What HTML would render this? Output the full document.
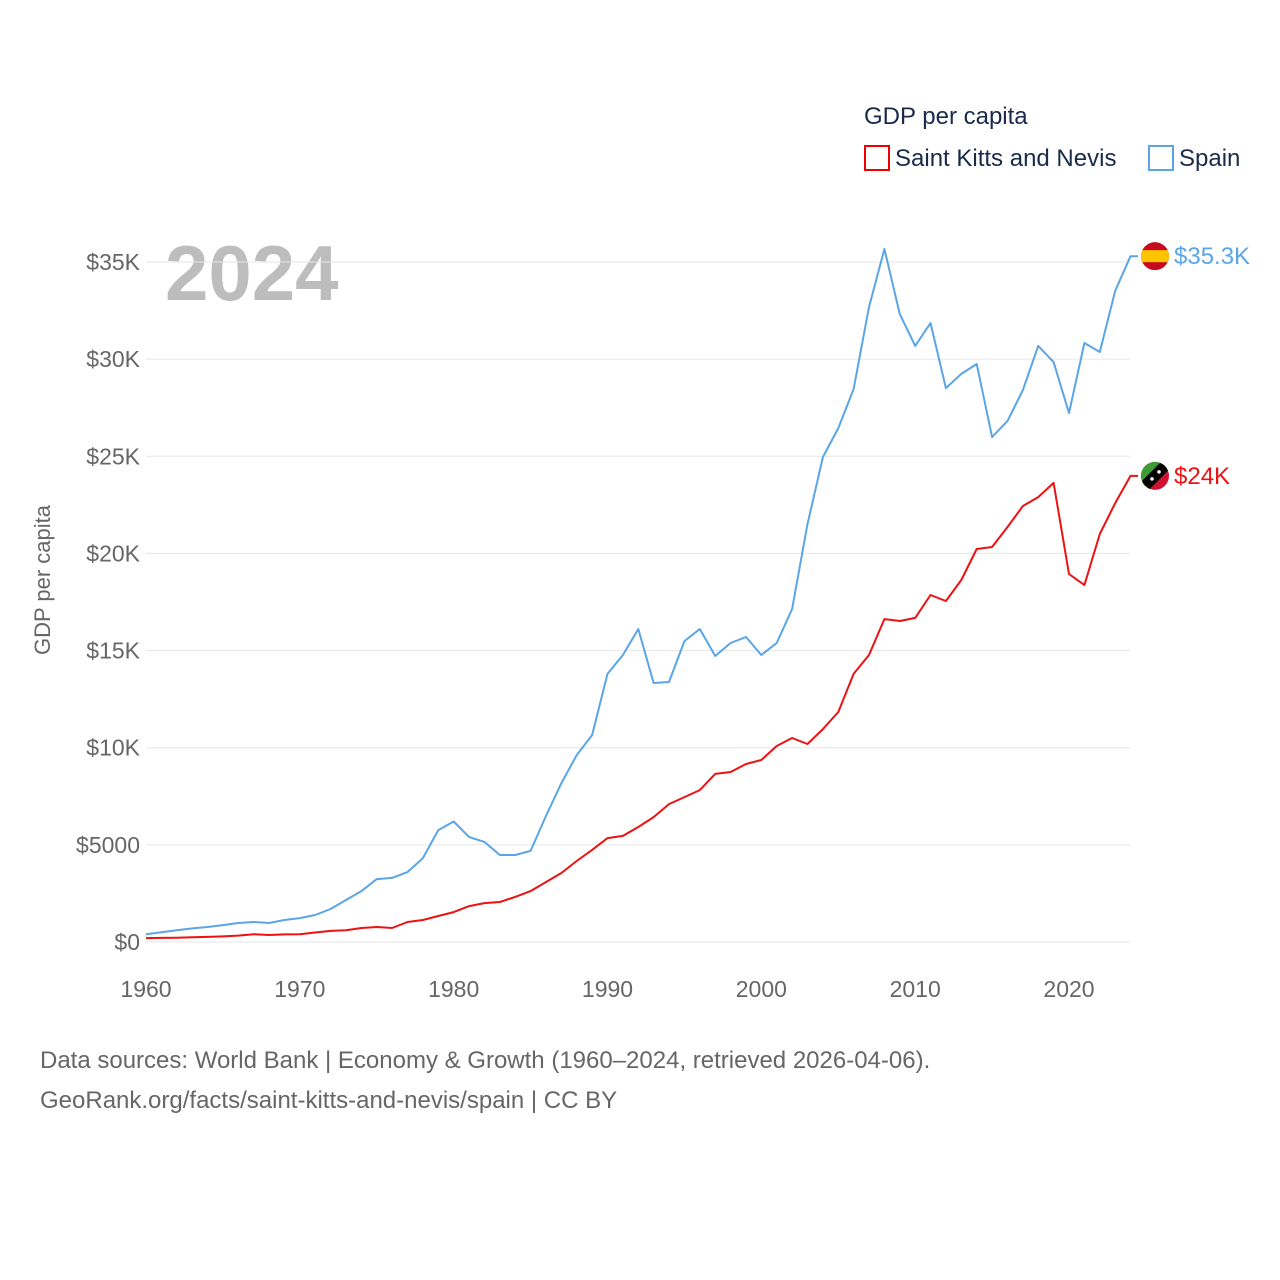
<!DOCTYPE html>
<html><head><meta charset="utf-8"><style>
body{margin:0;background:#fff;font-family:"Liberation Sans",sans-serif}
svg{display:block}
</style></head><body>
<svg id="chart" width="1280" height="1280" viewBox="0 0 1280 1280">
<defs><clipPath id="c1"><circle cx="0" cy="0" r="14"/></clipPath></defs>
<text x="864" y="124" font-size="24" fill="#1a2a4a">GDP per capita</text>
<g><rect x="865" y="146" width="24" height="24" fill="none" stroke="#e00" stroke-width="2"/><text x="895" y="166" font-size="24" fill="#1a2a4a">Saint Kitts and Nevis</text></g>
<g><rect x="1149" y="146" width="24" height="24" fill="none" stroke="#5aa5e8" stroke-width="2"/><text x="1179" y="166" font-size="24" fill="#1a2a4a">Spain</text></g>
<text x="165" y="300" font-size="78" font-weight="bold" fill="#bdbdbd">2024</text>
<text transform="translate(50,580) rotate(-90)" text-anchor="middle" font-size="22" fill="#666">GDP per capita</text>
<g id="grid"></g><g id="lines"></g>
<text x="40" y="1068" font-size="24" fill="#666">Data sources: World Bank | Economy &amp; Growth (1960–2024, retrieved 2026-04-06).</text>
<text x="40" y="1108" font-size="24" fill="#666">GeoRank.org/facts/saint-kitts-and-nevis/spain | CC BY</text>
</svg>
<script>
const years=[];for(let y=1960;y<=2024;y++)years.push(y);
const spain=[400,500,600,700,770,870,980,1030,980,1130,1230,1390,1700,2160,2620,3240,3300,3600,4320,5760,6200,5400,5150,4480,4480,4690,6490,8180,9620,10650,13800,14770,16110,13330,13380,15490,16110,14720,15390,15700,14770,15390,17140,21510,24960,26450,28460,32680,35670,32320,30680,31860,28510,29240,29750,25990,26820,28410,30680,29850,27230,30830,30370,33510,35300];
const skn=[200,210,220,240,260,290,330,400,360,390,400,490,570,600,720,770,720,1030,1130,1340,1540,1850,2000,2060,2320,2620,3090,3550,4170,4740,5350,5460,5920,6430,7100,7460,7820,8650,8750,9160,9370,10090,10500,10190,10960,11840,13800,14770,16620,16520,16680,17860,17550,18630,20230,20330,21360,22440,22900,23630,18940,18370,21000,22590,23990];
const yTicks=[0,5000,10000,15000,20000,25000,30000,35000];
const yTickLabels=["$0","$5000","$10K","$15K","$20K","$25K","$30K","$35K"];
const xTicks=[1960,1970,1980,1990,2000,2010,2020];
const X=y=>146+(y-1960)*(1069-146)/60;
const Y=v=>942-v*680/35000;
const NS="http://www.w3.org/2000/svg";
const grid=document.getElementById('grid'),lines=document.getElementById('lines');
function mk(tag,attrs,parent){const e=document.createElementNS(NS,tag);for(const k in attrs)e.setAttribute(k,attrs[k]);parent.appendChild(e);return e;}
yTicks.forEach((t,i)=>{
 const l=mk('line',{x1:146,x2:1130,y1:Y(t),y2:Y(t),stroke:'#e6e6e6','stroke-width':1},grid);
 
 
 const tx=mk('text',{x:140,y:Y(t)+8,'text-anchor':'end','font-size':23,fill:'#666'},grid);tx.textContent=yTickLabels[i];
 
 
});
xTicks.forEach(t=>{
 const tx=mk('text',{x:X(t),y:997,'text-anchor':'middle','font-size':23,fill:'#666'},grid);tx.textContent=t;
 
 
});
function series(vals,color,name,label,flag){
 let d=vals.map((v,i)=>(i?'L':'M')+X(years[i]).toFixed(1)+','+Y(v).toFixed(1)).join('');
 const last=vals[vals.length-1];d+='L1138,'+Y(last).toFixed(1);
 const p=mk('path',{d:d,fill:'none',stroke:color,'stroke-width':2,'stroke-linejoin':'round'},lines);
 
 
 const g=mk('g',{transform:'translate(1155,'+Y(last)+')','clip-path':'url(#c1)'},lines);
 
 
 g.innerHTML=flag;
 const t=mk('text',{x:1174,y:Y(last)+8,'font-size':24,fill:color},lines);t.textContent=label;
 
 
}
series(skn,'#ee1111','skn','$24K','<rect x="-15" y="-15" width="30" height="30" fill="#d21034"/><path d="M-15,-15L15,-15L-15,15Z" fill="#3f9c35"/><path d="M-20,12L12,-20L20,-12L-12,20Z" fill="#fcd116"/><path d="M-18,10L10,-18L18,-10L-10,18Z" fill="#000"/><circle cx="-3" cy="3" r="1.8" fill="#fff"/><circle cx="4" cy="-4" r="1.8" fill="#fff"/>');
series(spain,'#5aa5e8','spain','$35.3K','<rect x="-15" y="-15" width="30" height="30" fill="#c60b1e"/><rect x="-15" y="-6" width="30" height="12" fill="#ffc400"/>');
</script>
</body></html>
